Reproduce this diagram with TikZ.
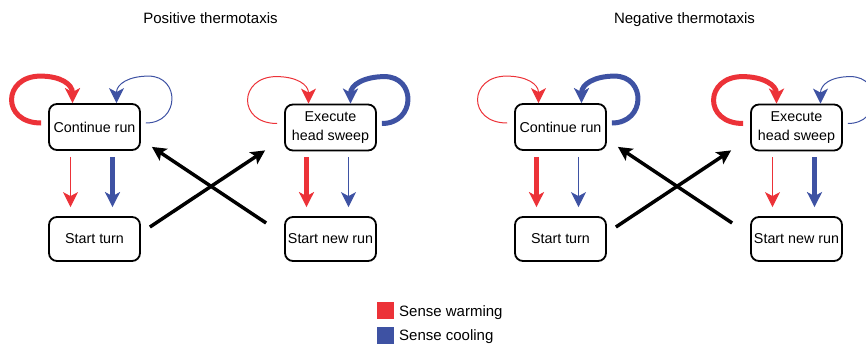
\documentclass[tikz,border=0pt]{standalone}
\usepackage{fontspec}
\setmainfont{Liberation Sans}
\usetikzlibrary{arrows.meta}
\definecolor{warm}{RGB}{236,50,56}
\definecolor{cool}{RGB}{62,82,163}
\begin{document}
\begin{tikzpicture}[x=1pt,y=-1pt,
  box/.style={draw, line width=1.8pt, rounded corners=8pt, minimum width=91pt,
    minimum height=46pt, inner sep=1pt, align=center,
    font=\fontsize{14.3}{18.5}\selectfont},
  lowbox/.style={box, minimum height=44pt},
  tipc/.style={-{Stealth[length=15pt,width=15pt,inset=4pt]}},
  wthick/.style={tipc, draw=warm, line width=5pt},
  wthin/.style={tipc, draw=warm, line width=1pt},
  cthick/.style={tipc, draw=cool, line width=5pt},
  cthin/.style={tipc, draw=cool, line width=1pt},
  trans/.style={-{Stealth[length=14pt,width=14pt,inset=3pt]}, line width=3.5pt},
  title/.style={anchor=base, font=\fontsize{15}{18}\selectfont},
  legtext/.style={anchor=base west, inner sep=0pt, font=\fontsize{15}{18}\selectfont},
  legsq/.style={minimum size=17pt, inner sep=0pt},
]
\useasboundingbox (0,0) rectangle (866,343);

% titles
\node[title] (t1) at (210.5,23.5) {Positive thermotaxis};
\node[title] (t2) at (684.5,23.5) {Negative thermotaxis};

% left panel boxes
\node[box] (cr1) at (94.5,127) {Continue run};
\node[box] (eh1) at (330.5,127.5) {Execute\\head sweep};
\node[lowbox] (st1) at (94.5,239) {Start turn};
\node[lowbox] (sn1) at (330.5,239) {Start new run};

% right panel boxes
\node[box] (cr2) at (560.5,127) {Continue run};
\node[box] (eh2) at (796.5,127.5) {Execute\\head sweep};
\node[lowbox] (st2) at (560.5,239) {Start turn};
\node[lowbox] (sn2) at (796.5,239) {Start new run};

% ---- left panel loops
\draw[wthick] ([shift={(-7,-4)}]cr1.west) .. controls +(-40,0) and +(-38,0) .. ([shift={(-54,-27)}]cr1.north) .. controls +(20,0) and +(0,-19) .. ([shift={(-22,0)}]cr1.north);
\draw[cthin] ([shift={(5,-4)}]cr1.east) .. controls +(34,0) and +(32,0) .. ([shift={(54,-27)}]cr1.north) .. controls +(-20,0) and +(0,-19) .. ([shift={(22,0)}]cr1.north);
\draw[wthin] ([shift={(-7,-4)}]eh1.west) .. controls +(-40,0) and +(-38,0) .. ([shift={(-54,-27)}]eh1.north) .. controls +(20,0) and +(0,-19) .. ([shift={(-22,0)}]eh1.north);
\draw[cthick] ([shift={(5,-4)}]eh1.east) .. controls +(34,0) and +(32,0) .. ([shift={(54,-27)}]eh1.north) .. controls +(-20,0) and +(0,-19) .. ([shift={(20,0)}]eh1.north);

% ---- left panel verticals
\draw[wthin] ([shift={(-24,6)}]cr1.south) -- ([shift={(-24,-9)}]st1.north);
\draw[cthick] ([shift={(18,6)}]cr1.south) -- ([shift={(18,-9)}]st1.north);
\draw[wthick] ([shift={(-24,6)}]eh1.south) -- ([shift={(-24,-9)}]sn1.north);
\draw[cthin] ([shift={(18,6)}]eh1.south) -- ([shift={(18,-9)}]sn1.north);

% ---- left panel transitions
\draw[trans] ([shift={(9,-12)}]st1.east) -- ([shift={(-19,-1)}]eh1.south west);
\draw[trans] ([shift={(-18,-16)}]sn1.west) -- ([shift={(11,-4)}]cr1.south east);

% ---- right panel loops
\draw[wthin] ([shift={(-7,-4)}]cr2.west) .. controls +(-40,0) and +(-38,0) .. ([shift={(-54,-27)}]cr2.north) .. controls +(20,0) and +(0,-19) .. ([shift={(-22,0)}]cr2.north);
\draw[cthick] ([shift={(5,-4)}]cr2.east) .. controls +(34,0) and +(32,0) .. ([shift={(54,-27)}]cr2.north) .. controls +(-20,0) and +(0,-19) .. ([shift={(21,0)}]cr2.north);
\draw[wthick] ([shift={(-7,-4)}]eh2.west) .. controls +(-40,0) and +(-38,0) .. ([shift={(-54,-27)}]eh2.north) .. controls +(20,0) and +(0,-19) .. ([shift={(-20,0)}]eh2.north);
\draw[cthin] ([shift={(5,-4)}]eh2.east) .. controls +(34,0) and +(32,0) .. ([shift={(54,-27)}]eh2.north) .. controls +(-20,0) and +(0,-19) .. ([shift={(24,0)}]eh2.north);

% ---- right panel verticals
\draw[wthick] ([shift={(-24,6)}]cr2.south) -- ([shift={(-24,-9)}]st2.north);
\draw[cthin] ([shift={(18,6)}]cr2.south) -- ([shift={(18,-9)}]st2.north);
\draw[wthin] ([shift={(-24,6)}]eh2.south) -- ([shift={(-24,-9)}]sn2.north);
\draw[cthick] ([shift={(18,6)}]eh2.south) -- ([shift={(18,-9)}]sn2.north);

% ---- right panel transitions
\draw[trans] ([shift={(9,-12)}]st2.east) -- ([shift={(-19,-1)}]eh2.south west);
\draw[trans] ([shift={(-18,-16)}]sn2.west) -- ([shift={(11,-4)}]cr2.south east);

% legend
\node[legsq, fill=warm] (lw) at (385.5,310) {};
\node[legtext] (tw) at (399,316.7) {Sense warming};
\node[legsq, fill=cool] (lc) at (385.5,335) {};
\node[legtext] (tc) at (399,340) {Sense cooling};
\end{tikzpicture}
\end{document}
